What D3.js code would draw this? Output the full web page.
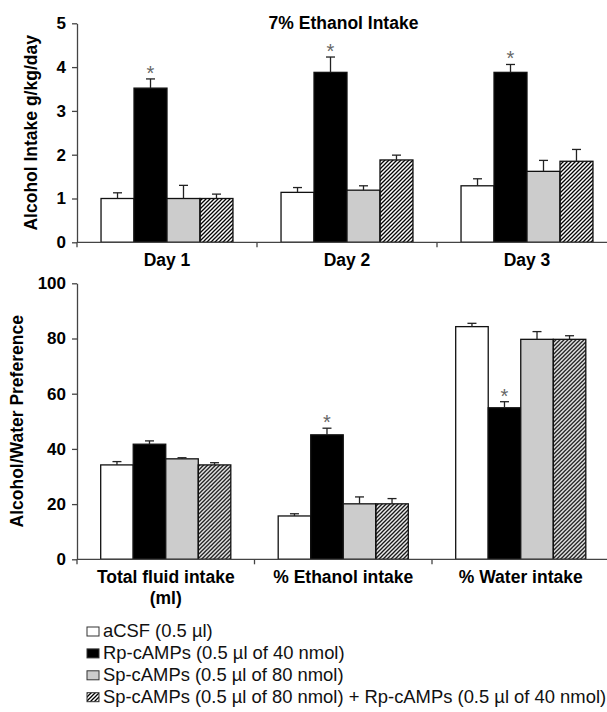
<!DOCTYPE html>
<html>
<head>
<meta charset="utf-8">
<script src="https://cdn.jsdelivr.net/npm/d3@7"></script>
<style>
  body { margin: 0; background: #fff; }
  text { font-family: "Liberation Sans", Arial, sans-serif; }
</style>
</head>
<body>
<span></span>
<script>
// two stacked bar charts, 4 treatment groups each, with SEM bars
// top: ethanol intake per day, bottom: preference measures

const series = ["aCSF (0.5 µl)", "Rp-cAMPs (0.5 µl of 40 nmol)", "Sp-cAMPs (0.5 µl of 80 nmol)",
    "Sp-cAMPs (0.5 µl of 80 nmol) + Rp-cAMPs (0.5 µl of 40 nmol)"];
const fills = ["#ffffff", "#000000", "#cccccc", "url(#hatch)"];

const days = ["Day 1", "Day 2", "Day 3"];
const intakeMeans = [[1.00, 3.52, 1.00, 1.00], [1.14, 3.88, 1.19, 1.88], [1.29, 3.88, 1.62, 1.85]];
const intakeErr = [[0.13, 0.21, 0.30, 0.10], [0.11, 0.35, 0.10, 0.11], [0.16, 0.18, 0.25, 0.27]];
const intakeStars = [[0, 1, 0, 0], [0, 1, 0, 0], [0, 1, 0, 0]];
const intakeTicks = [0, 1, 2, 3, 4, 5];

const measures = [["Total fluid intake", "(ml)"], ["% Ethanol intake"], ["% Water intake"]];
const prefMeans = [[34.2, 41.7, 36.4, 34.2], [15.7, 45.1, 20.1, 20.1], [84.3, 54.9, 79.7, 79.7]];
const prefErr = [[1.2, 1.2, 0.4, 0.8], [0.8, 2.4, 2.5, 1.9], [1.2, 2.2, 2.8, 1.3]];
const prefStars = [[0, 0, 0, 0], [0, 1, 0, 0], [0, 1, 0, 0]];
const prefTicks = [0, 20, 40, 60, 80, 100];

let width = 607, height = 712;

let svg = d3.select("span")
    .append("svg")
        .attr("width", width)
        .attr("height", height)
        .style("display", "block");

// hatch pattern for the combined group
let defs = svg.append("defs");
defs.append("pattern")
    .attr("id", "hatch")
    .attr("patternUnits", "userSpaceOnUse")
    .attr("width", 4)
    .attr("height", 4)
  .append("path")
    .attr("d", "M-1,1 l2,-2 M0,4 l4,-4 M3,5 l2,-2")
    .attr("stroke", "#000")
    .attr("stroke-width", 1.3);

function drawPanel(cats, means, errs, stars, ticks, yDomain, xRange, yRange, yTitle, titleX) {
    let g = svg.append("g");

    let x0 = d3.scaleBand().domain(d3.range(cats.length)).range(xRange).paddingInner(0.267).paddingOuter(0.1335);
    let x1 = d3.scaleBand().domain(d3.range(series.length)).range([0, x0.bandwidth()]);
    let y = d3.scaleLinear().domain(yDomain).range(yRange);

    // bars
    let groups = g.selectAll(".grp")
        .data(means)
        .enter()
        .append("g")
        .attr("transform", (d, i) => "translate(" + x0(i) + ",0)");

    groups.each(function(row, ci) {
        let gg = d3.select(this);
        gg.selectAll("rect")
            .data(row)
            .enter()
            .append("rect")
            .attr("x", (d, i) => x1(i))
            .attr("y", d => y(d))
            .attr("width", x1.bandwidth())
            .attr("height", d => y(0) - y(d))
            .attr("fill", (d, i) => fills[i])
            .attr("stroke", "#111")
            .attr("stroke-width", 1.3);

        // error bars (upper only)
        row.forEach((v, i) => {
            let cx = x1(i) + x1.bandwidth() / 2;
            let top = y(v + errs[ci][i]);
            gg.append("line")
                .attr("x1", cx).attr("x2", cx)
                .attr("y1", y(v)).attr("y2", top)
                .attr("stroke", "#222").attr("stroke-width", 1.3);
            gg.append("line")
                .attr("x1", cx - 4.5).attr("x2", cx + 4.5)
                .attr("y1", top).attr("y2", top)
                .attr("stroke", "#222").attr("stroke-width", 1.3);
            if (stars[ci][i]) {
                gg.append("text")
                    .text("*")
                    .attr("x", cx)
                    .attr("y", top + 1)
                    .attr("text-anchor", "middle")
                    .style("font-size", "20px")
                    .attr("fill", "#666");
            }
        });
    });

    // y axis
    let yAxis = g.append("g")
        .attr("transform", "translate(" + xRange[0] + ",0)")
        .call(d3.axisLeft(y).tickValues(ticks).tickFormat(d3.format("d"))
            .tickSize(5).tickSizeOuter(0).tickPadding(6));
    yAxis.select(".domain").attr("stroke", "#444").attr("stroke-width", 1.3);
    yAxis.selectAll(".tick line").attr("stroke", "#444").attr("stroke-width", 1.3);
    yAxis.selectAll(".tick text")
        .attr("fill", "#000")
        .style("font-size", "17px")
        .style("font-weight", "bold")
        .style("font-family", "'Liberation Sans', Arial, sans-serif");

    // x axis line + boundary ticks
    g.append("line")
        .attr("x1", xRange[0]).attr("x2", xRange[1])
        .attr("y1", y(0)).attr("y2", y(0))
        .attr("stroke", "#444").attr("stroke-width", 1.3);
    cats.forEach((c, i) => {
        let bx = x0(i) - x0.step() * x0.paddingInner() / 2;
        g.append("line")
            .attr("x1", bx).attr("x2", bx)
            .attr("y1", y(0)).attr("y2", y(0) + 5)
            .attr("stroke", "#444").attr("stroke-width", 1.3);
    });

    // category labels
    cats.forEach((c, i) => {
        let lines = Array.isArray(c) ? c : [c];
        lines.forEach((ln, k) => {
            g.append("text")
                .text(ln)
                .attr("x", x0(i) + x0.bandwidth() / 2)
                .attr("y", y(0) + 24 + k * 21)
                .attr("text-anchor", "middle")
                .style("font-size", "17.5px")
                .style("font-weight", "bold");
        });
    });

    // y title
    g.append("text")
        .text(yTitle)
        .attr("transform", "translate(" + titleX + "," + ((yRange[0] + yRange[1]) / 2) + ") rotate(-90)")
        .attr("text-anchor", "middle")
        .style("font-size", "17.5px")
        .style("font-weight", "bold");

    return x0;
}

drawPanel(days, intakeMeans, intakeErr, intakeStars, intakeTicks, [0, 5], [77, 617], [242.3, 23.3],
    "Alcohol Intake g/kg/day", 37);

drawPanel(measures, prefMeans, prefErr, prefStars, prefTicks, [0, 100], [77, 609.5], [559.3, 283.3],
    "Alcohol/Water Preference", 23);

svg.append("text")
    .text("7% Ethanol Intake")
    .attr("x", 343.5)
    .attr("y", 29.3)
    .attr("text-anchor", "middle")
    .style("font-size", "17.5px")
    .style("font-weight", "bold");

// legend
let legend = svg.append("g");
series.forEach((s, i) => {
    let by = 637 + i * 21.9;
    legend.append("rect")
        .attr("x", 87)
        .attr("y", by - 10)
        .attr("width", 12)
        .attr("height", 9)
        .attr("fill", fills[i])
        .attr("stroke", "#333")
        .attr("stroke-width", 1);
    legend.append("text")
        .text(s)
        .attr("x", 103)
        .attr("y", by)
        .style("font-size", "18.4px")
        .attr("fill", "#111");
});
</script>
</body>
</html>
